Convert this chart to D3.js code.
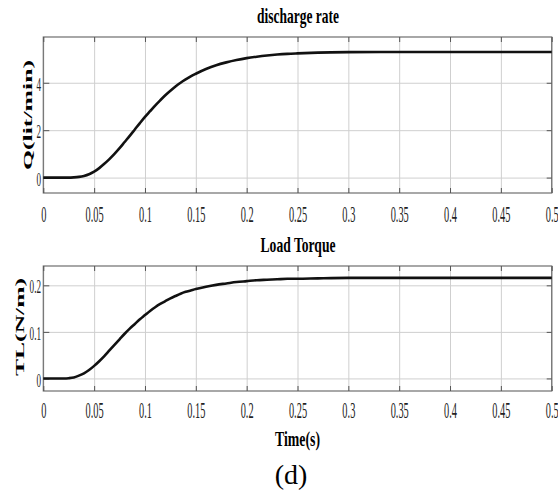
<!DOCTYPE html>
<html>
<head>
<meta charset="utf-8">
<script src="https://cdn.jsdelivr.net/npm/d3@7"></script>
<style>
  body { margin: 0; background: #fff; }
</style>
</head>
<body>
<script>
// data
const time = [0, 0.02, 0.025, 0.03, 0.035, 0.04, 0.045, 0.05, 0.055, 0.06, 0.065, 0.07, 0.075, 0.08, 0.085,
  0.09, 0.095, 0.1, 0.105, 0.11, 0.115, 0.12, 0.125, 0.13, 0.135, 0.14, 0.145, 0.15, 0.16, 0.17, 0.18,
  0.19, 0.2, 0.21, 0.22, 0.23, 0.24, 0.25, 0.27, 0.3, 0.35, 0.4, 0.45, 0.5];
const qValues = [0, 0, 0, 0.01, 0.03, 0.07, 0.14, 0.25, 0.4, 0.58, 0.78, 1.0, 1.24, 1.5, 1.76,
  2.03, 2.3, 2.56, 2.8, 3.04, 3.26, 3.47, 3.66, 3.84, 4.0, 4.14, 4.27, 4.38, 4.58, 4.74, 4.86,
  4.96, 5.04, 5.1, 5.15, 5.19, 5.22, 5.24, 5.27, 5.29, 5.3, 5.3, 5.3, 5.3];
const tlValues = [0, 0, 0.0005, 0.002, 0.006, 0.011, 0.018, 0.027, 0.037, 0.048, 0.06, 0.072, 0.084, 0.096, 0.107,
  0.117, 0.127, 0.136, 0.145, 0.153, 0.16, 0.166, 0.172, 0.177, 0.182, 0.186, 0.189, 0.192, 0.197, 0.201, 0.204,
  0.207, 0.209, 0.211, 0.212, 0.213, 0.214, 0.214, 0.215, 0.216, 0.216, 0.216, 0.216, 0.216];
const xTicks = [0, 0.05, 0.1, 0.15, 0.2, 0.25, 0.3, 0.35, 0.4, 0.45, 0.5];
const qTicks = [0, 2, 4];
const tlTicks = [0, 0.1, 0.2];

const width = 558;
const height = 491;
const left = 43.3, right = 551.7;
const serif = "'Liberation Serif', 'Times New Roman', serif";

const svg = d3.select("body").append("svg")
    .attr("width", width)
    .attr("height", height);

const x = d3.scaleLinear().domain([0, 0.5]).range([left, right]);

// one subplot
function panel(cfg) {
    const y = d3.scaleLinear().domain(cfg.domain).range([cfg.bottom, cfg.top]);
    const h = cfg.bottom - cfg.top;
    const g = svg.append("g");

    // grid
    g.append("g")
        .attr("transform", `translate(0,${cfg.bottom})`)
        .call(d3.axisBottom(x).tickValues(xTicks).tickSize(-h).tickFormat(""))
        .call(a => a.select(".domain").remove())
        .selectAll("line").attr("stroke", "#cfcfcf");
    g.append("g")
        .attr("transform", `translate(${left},0)`)
        .call(d3.axisLeft(y).tickValues(cfg.ticks).tickSize(-(right - left)).tickFormat(""))
        .call(a => a.select(".domain").remove())
        .selectAll("line").attr("stroke", "#cfcfcf");

    // frame
    g.append("rect")
        .attr("x", left).attr("y", cfg.top)
        .attr("width", right - left).attr("height", h)
        .attr("fill", "none").attr("stroke", "#6e6e6e").attr("stroke-width", 1.2);

    // bottom axis with labels
    const xa = g.append("g")
        .attr("transform", `translate(0,${cfg.bottom})`)
        .call(d3.axisBottom(x).tickValues(xTicks).tickSize(-5).tickFormat(d3.format("")));
    xa.select(".domain").remove();
    xa.selectAll("line").attr("stroke", "#555");
    xa.selectAll("text")
        .attr("y", cfg.xLabelGap)
        .attr("dy", 0)
        .attr("transform", "scale(0.45,1)")
        .attr("fill", "#222")
        .style("font-family", serif)
        .style("font-size", "23px");

    // top / right inner ticks
    g.append("g").attr("transform", `translate(0,${cfg.top})`)
        .call(d3.axisTop(x).tickValues(xTicks).tickSize(-5).tickFormat(""))
        .call(a => a.select(".domain").remove())
        .selectAll("line").attr("stroke", "#555");
    g.append("g").attr("transform", `translate(${right},0)`)
        .call(d3.axisRight(y).tickValues(cfg.ticks).tickSize(-5).tickFormat(""))
        .call(a => a.select(".domain").remove())
        .selectAll("line").attr("stroke", "#555");

    // left axis with labels
    const ya = g.append("g")
        .attr("transform", `translate(${left},0)`)
        .call(d3.axisLeft(y).tickValues(cfg.ticks).tickSize(-6).tickFormat(d3.format("")));
    ya.select(".domain").remove();
    ya.selectAll("line").attr("stroke", "#555");
    ya.selectAll("text")
        .attr("x", -4.8)
        .attr("dy", "0.4em")
        .attr("transform", "scale(0.48,1)")
        .attr("fill", "#222")
        .style("font-family", serif)
        .style("font-size", "19px");

    // curve
    const line = d3.line()
        .x((d, i) => x(time[i]))
        .y(d => y(d))
        .curve(d3.curveMonotoneX);
    g.append("path")
        .datum(cfg.values)
        .attr("d", line)
        .attr("fill", "none")
        .attr("stroke", "#111")
        .attr("stroke-width", 2.6);

    // title
    g.append("text")
        .attr("x", 298).attr("y", cfg.titleY)
        .attr("text-anchor", "middle")
        .attr("textLength", cfg.titleLen)
        .attr("lengthAdjust", "spacingAndGlyphs")
        .style("font-family", serif).style("font-weight", "bold").style("font-size", "21px")
        .text(cfg.title);

    // y label
    g.append("text")
        .attr("transform", `translate(${cfg.labelX},${cfg.labelY}) rotate(-90) scale(1,0.55)`)
        .attr("text-anchor", "middle")
        .attr("textLength", cfg.labelLen)
        .attr("lengthAdjust", "spacingAndGlyphs")
        .style("font-family", serif).style("font-weight", "bold").style("font-size", "21px")
        .text(cfg.label);
}

panel({
    top: 37, bottom: 193, domain: [-0.65, 5.93], ticks: qTicks, values: qValues,
    title: "discharge rate", titleY: 23, titleLen: 82,
    label: "Q(lit/min)", labelX: 31.5, labelY: 115, labelLen: 110, xLabelGap: 29
});

panel({
    top: 266, bottom: 391, domain: [-0.027, 0.2415], ticks: tlTicks, values: tlValues,
    title: "Load Torque", titleY: 252, titleLen: 75,
    label: "TL(N/m)", labelX: 24, labelY: 327, labelLen: 98, xLabelGap: 27
});

svg.append("text")
    .attr("x", 297.5).attr("y", 446)
    .attr("text-anchor", "middle")
    .attr("textLength", 45)
    .attr("lengthAdjust", "spacingAndGlyphs")
    .style("font-family", serif).style("font-weight", "bold").style("font-size", "22px")
    .text("Time(s)");

svg.append("text")
    .attr("x", 291).attr("y", 484)
    .attr("text-anchor", "middle")
    .style("font-family", serif).style("font-size", "28px")
    .text("(d)");
</script>
</body>
</html>
